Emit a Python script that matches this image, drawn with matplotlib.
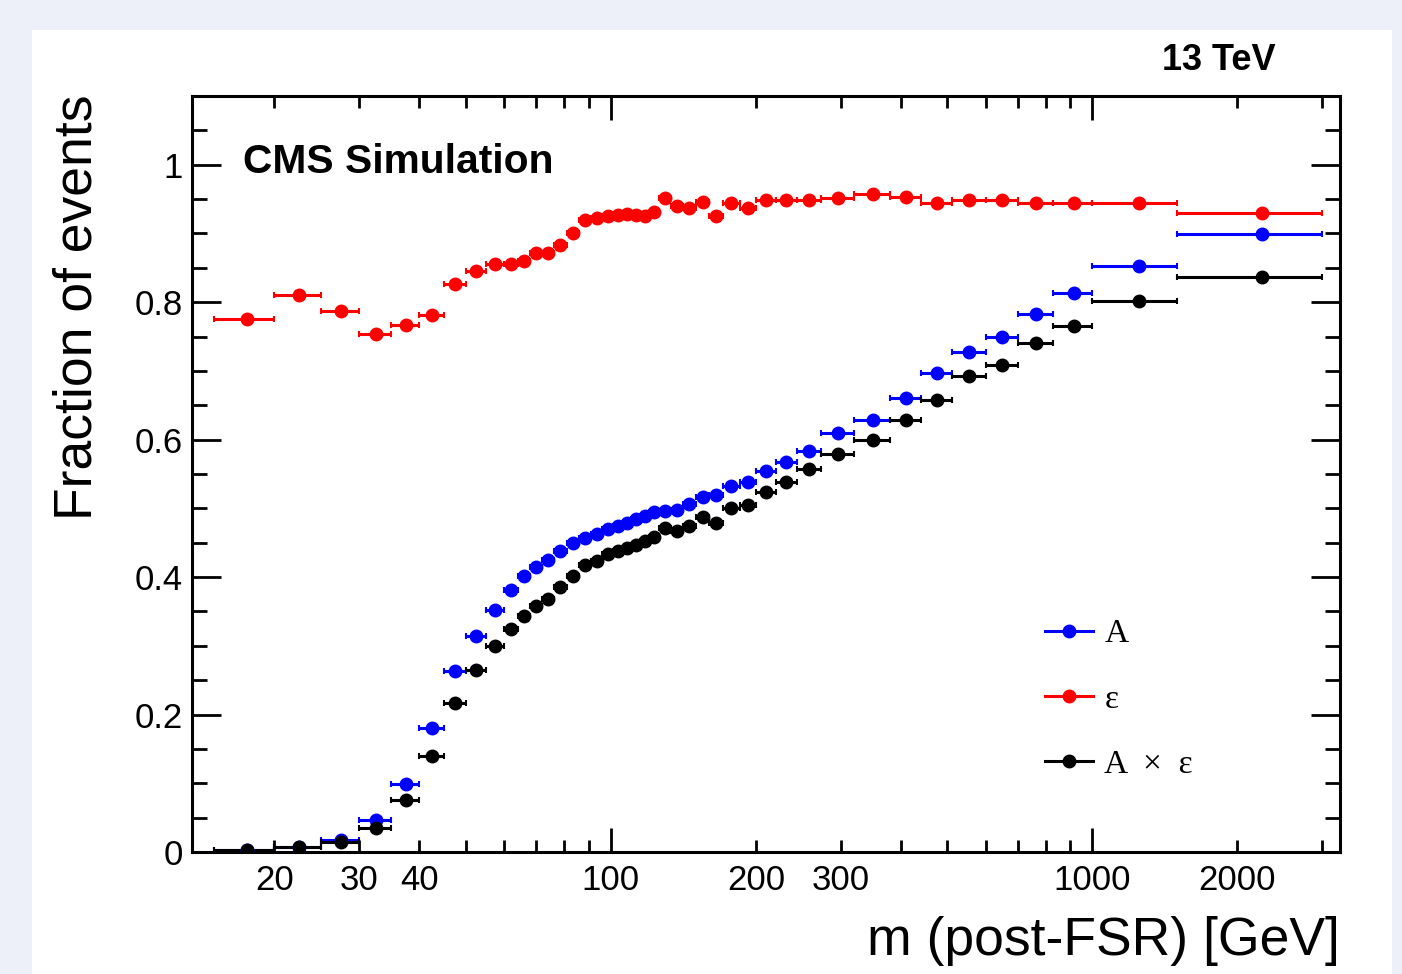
"""
CMS simulation: acceptance, efficiency and A x eff vs post-FSR dilepton mass
"""
import numpy as np
import matplotlib
matplotlib.use('Agg')
import matplotlib.pyplot as plt
from matplotlib.patches import Rectangle
from matplotlib.lines import Line2D
from matplotlib.ticker import FixedLocator, FixedFormatter

plt.rcParams['font.family'] = ['Liberation Sans', 'DejaVu Sans']

# mass bin edges [GeV]
bin_edges = [15, 20, 25, 30, 35, 40, 45, 50, 55, 60, 64, 68, 72, 76, 81, 86, 91, 96,
             101, 106, 110, 115, 120, 126, 133, 141, 150, 160, 171, 185, 200, 220,
             243, 273, 320, 380, 440, 510, 600, 700, 830, 1000, 1500, 3000]

# acceptance A
acc = [0.003, 0.008, 0.018, 0.047, 0.099, 0.181, 0.264, 0.315, 0.352, 0.381,
       0.402, 0.414, 0.425, 0.438, 0.449, 0.457, 0.462, 0.470, 0.474, 0.479,
       0.484, 0.489, 0.494, 0.496, 0.497, 0.506, 0.516, 0.520, 0.532, 0.538,
       0.554, 0.568, 0.584, 0.610, 0.628, 0.661, 0.697, 0.728, 0.749, 0.783,
       0.814, 0.852, 0.899]

# efficiency eps
eff = [0.775, 0.811, 0.787, 0.753, 0.767, 0.782, 0.827, 0.845, 0.855, 0.855,
       0.860, 0.872, 0.872, 0.883, 0.900, 0.919, 0.922, 0.925, 0.927, 0.928,
       0.927, 0.925, 0.931, 0.951, 0.940, 0.937, 0.946, 0.926, 0.944, 0.937,
       0.948, 0.948, 0.949, 0.952, 0.958, 0.953, 0.944, 0.949, 0.948, 0.944,
       0.944, 0.944, 0.930]

# A x eps
acc_eff = [0.003, 0.007, 0.014, 0.035, 0.075, 0.140, 0.217, 0.265, 0.300, 0.324,
           0.344, 0.358, 0.368, 0.385, 0.402, 0.418, 0.423, 0.433, 0.438, 0.443,
           0.447, 0.452, 0.458, 0.471, 0.467, 0.474, 0.487, 0.479, 0.500, 0.505,
           0.524, 0.539, 0.557, 0.579, 0.600, 0.629, 0.658, 0.692, 0.709, 0.740,
           0.766, 0.802, 0.837]

edges = np.array(bin_edges, dtype=float)
centers = 0.5 * (edges[:-1] + edges[1:])
xerr = [centers - edges[:-1], edges[1:] - centers]

W, H = 1402, 974
fig = plt.figure(figsize=(W / 100, H / 100), dpi=100, facecolor='#edf0f8')
fig.patches.append(Rectangle((32 / W, 0), (1392 - 32) / W, (974 - 30) / H,
                             transform=fig.transFigure, facecolor='white',
                             edgecolor='none', zorder=-10))

ax = fig.add_axes([191.5 / W, 1 - 852 / H, (1340 - 191.5) / W, (852 - 96) / H])
ax.set_zorder(2)
ax.patch.set_alpha(0)

series = [(acc, '#0000ff', 'A'), (eff, '#ff0000', 'ε'), (acc_eff, 'black', 'A  ×  ε')]
for vals, col, lab in series:
    ax.errorbar(centers, vals, xerr=xerr, fmt='o', color=col, ms=9,
                elinewidth=2.2, capsize=2.5, capthick=1.5, zorder=3)

ax.set_xscale('log')
ax.set_xlim(13.45, 3270)
ax.set_ylim(0, 1.1)

# x ticks: ROOT style log axis
ax.xaxis.set_major_locator(FixedLocator([100, 1000]))
ax.xaxis.set_major_formatter(FixedFormatter(['100', '1000']))
minor_x = [20, 30, 40, 50, 60, 70, 80, 90, 200, 300, 400, 500, 600, 700, 800, 900, 2000, 3000]
minor_lab = ['20', '30', '40', '', '', '', '', '', '200', '300', '', '', '', '', '', '', '2000', '']
ax.xaxis.set_minor_locator(FixedLocator(minor_x))
ax.xaxis.set_minor_formatter(FixedFormatter(minor_lab))

ax.set_yticks([0, 0.2, 0.4, 0.6, 0.8, 1.0])
ax.set_yticklabels(['0', '0.2', '0.4', '0.6', '0.8', '1'])
ax.set_yticks(np.arange(0, 1.1, 0.05), minor=True)

ax.tick_params(axis='both', which='both', direction='in', top=True, right=True,
               width=2, labelsize=25, colors='black')
ax.tick_params(axis='x', which='major', length=17, pad=9)
ax.tick_params(axis='x', which='minor', length=8.5, pad=9)
ax.tick_params(axis='y', which='major', length=21, pad=6)
ax.tick_params(axis='y', which='minor', length=11)
for sp in ax.spines.values():
    sp.set_linewidth(2.2)

# labels
fig.text(78 / W, 1 - 95 / H, 'Fraction of events', rotation=90, ha='center', va='top',
         fontsize=38.5)
fig.text(1340 / W, 1 - 941 / H, 'm (post-FSR) [GeV]', ha='right', va='center',
         fontsize=38.5)
fig.text(1276 / W, 1 - 60 / H, '13 TeV', ha='right', va='center', fontsize=26,
         fontweight='bold')
ax.text(243 / W, 1 - 162 / H, 'CMS Simulation', transform=fig.transFigure,
        ha='left', va='center', fontsize=29.3, fontweight='bold')

handles = [Line2D([], [], color=c, marker='o', ms=9, lw=2.2) for _, c, _ in series]
labels = [s[2] for s in series]
ax.legend(handles, labels, loc='upper left', bbox_to_anchor=(1045 / W, 1 - 619 / H),
          bbox_transform=fig.transFigure, frameon=False, borderpad=0, borderaxespad=0,
          handlelength=1.45, handletextpad=0.33, labelspacing=1.04,
          prop={'family': ['Liberation Serif', 'DejaVu Serif'], 'size': 24})

fig.savefig('out.png', dpi=100, facecolor=fig.get_facecolor())
print("saved out.png")
